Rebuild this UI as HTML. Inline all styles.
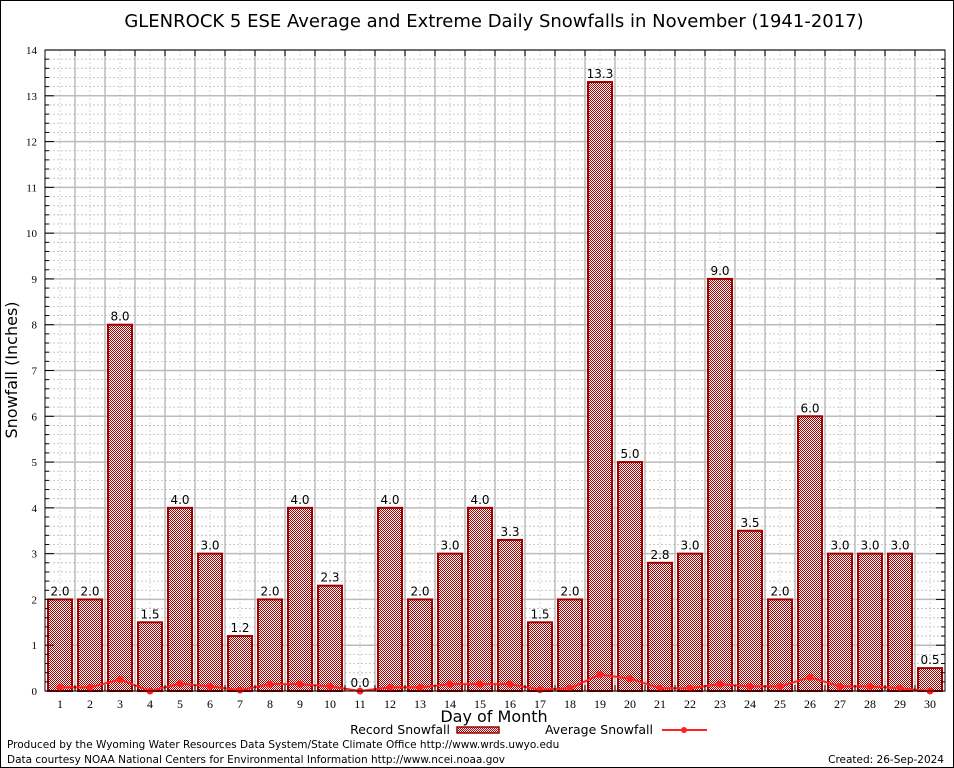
<!DOCTYPE html>
<html><head><meta charset="utf-8"><style>
body{margin:0;background:#fff}
svg{display:block;font-family:"DejaVu Sans","Liberation Sans",sans-serif}
</style></head><body>
<svg id="c" width="954" height="768" viewBox="0 0 954 768">
<defs>
<pattern id="chk" width="2" height="2" patternUnits="userSpaceOnUse"><rect width="2" height="2" fill="#fff"/><rect width="1" height="1" fill="#a00000"/><rect x="1" y="1" width="1" height="1" fill="#a00000"/></pattern>
</defs>
<rect x="0.5" y="0.5" width="953" height="767" fill="#fff" stroke="#000"/>
<text x="494" y="27" font-size="18" text-anchor="middle">GLENROCK 5 ESE Average and Extreme Daily Snowfalls in November (1941-2017)</text>
<g id="grid"></g>
<g id="bars"></g>
<g id="avg"></g>
<g id="axes"></g>
<text transform="translate(17,370) rotate(-90)" font-size="16" text-anchor="middle">Snowfall (Inches)</text>
<text x="494" y="722" font-size="16" text-anchor="middle">Day of Month</text>
<g>
<text x="450" y="734" font-size="12.5" text-anchor="end">Record Snowfall</text>
<rect x="457" y="727" width="42" height="6" fill="url(#chk)" stroke="#a00000" stroke-width="1.5"/>
</g>
<g>
<text x="653" y="734" font-size="12.5" text-anchor="end">Average Snowfall</text>
<line x1="662" y1="730" x2="707" y2="730" stroke="#ff2020" stroke-width="2"/>
<circle cx="684" cy="730" r="3" fill="#ff2020"/>
</g>
<text x="7" y="748" font-size="10.5">Produced by the Wyoming Water Resources Data System/State Climate Office http://www.wrds.uwyo.edu</text>
<text x="7" y="763" font-size="10.5">Data courtesy NOAA National Centers for Environmental Information http://www.ncei.noaa.gov</text>
<text x="944" y="763" font-size="10.5" text-anchor="end">Created: 26-Sep-2024</text>
</svg>
<script>
const days=[1,2,3,4,5,6,7,8,9,10,11,12,13,14,15,16,17,18,19,20,21,22,23,24,25,26,27,28,29,30];
const records=[2.0,2.0,8.0,1.5,4.0,3.0,1.2,2.0,4.0,2.3,0.0,4.0,2.0,3.0,4.0,3.3,1.5,2.0,13.3,5.0,2.8,3.0,9.0,3.5,2.0,6.0,3.0,3.0,3.0,0.5];
const averages=[0.08,0.08,0.25,0.0,0.16,0.1,0.02,0.15,0.15,0.1,0.0,0.08,0.08,0.15,0.15,0.15,0.03,0.06,0.36,0.27,0.06,0.06,0.15,0.1,0.1,0.3,0.1,0.1,0.06,0.0];
const yTicks=[0,1,2,3,4,5,6,7,8,9,10,11,12,13,14];
const NS="http://www.w3.org/2000/svg";
const L=45,R=945,T=50,B=691,yMax=14;
const xs=d=>L+(d-0.5)*(R-L)/days.length;
const ys=v=>B-v*(B-T)/yMax;
function mk(p,tag,a){const e=document.createElementNS(NS,tag);for(const k in a)e.setAttribute(k,a[k]);p.appendChild(e);return e;}
const grid=document.getElementById('grid'),bars=document.getElementById('bars'),avg=document.getElementById('avg'),axes=document.getElementById('axes');
for(let v=0;v<yMax;v+=0.2){const y=ys(v);mk(grid,'line',{x1:L,x2:R,y1:y,y2:y,stroke:'#bbb','stroke-dasharray':'2,2','stroke-width':0.8});}
for(let i=0;i<days.length*2;i++){const x=L+i*(R-L)/(days.length*2);mk(grid,'line',{x1:x,x2:x,y1:T,y2:B,stroke:'#ccc','stroke-dasharray':'2,2','stroke-width':0.8});}
yTicks.forEach(v=>{const y=ys(v);mk(grid,'line',{x1:L,x2:R,y1:y,y2:y,stroke:'#bbb','stroke-width':1.5});
const t=mk(axes,'text',{x:37,y:y+4,'font-size':11,'text-anchor':'end','font-family':'Liberation Serif,serif'});t.textContent=v;

});
for(let i=1;i<days.length;i++){const x=L+i*(R-L)/days.length;mk(grid,'line',{x1:x,x2:x,y1:T,y2:B,stroke:'#bbb','stroke-width':1.5});mk(axes,'line',{x1:x,x2:x,y1:T,y2:T+6,stroke:'#000'});mk(axes,'line',{x1:x,x2:x,y1:B,y2:B-6,stroke:'#000'});}
for(let v=0;v<=yMax;v+=0.2){const y=ys(v);const w=Math.abs(v-Math.round(v))<0.01?9:4;mk(axes,'line',{x1:L,x2:L+w,y1:y,y2:y,stroke:'#000'});mk(axes,'line',{x1:R,x2:R-w,y1:y,y2:y,stroke:'#000'});}
mk(axes,'rect',{x:L,y:T,width:R-L,height:B-T,fill:'none',stroke:'#000','stroke-width':1});
const bw=24;
days.forEach((d,i)=>{const x=xs(d),v=records[i];
const r=mk(bars,'rect',{x:x-bw/2,y:ys(v),width:bw,height:B-ys(v),fill:'url(#chk)',stroke:'#a00000','stroke-width':2});


const t=mk(bars,'text',{x:x,y:ys(v)-4,'font-size':12,'text-anchor':'middle'});t.textContent=v.toFixed(1);


const dl=mk(axes,'text',{x:x,y:B+17,'font-size':12,'text-anchor':'middle','font-family':'Liberation Serif,serif'});dl.textContent=d;

});
const pl=mk(avg,'polyline',{points:days.map((d,i)=>xs(d)+','+ys(averages[i])).join(' '),fill:'none',stroke:'#ff2020','stroke-width':2});


days.forEach((d,i)=>{const c=mk(avg,'circle',{cx:xs(d),cy:ys(averages[i]),r:3.5,fill:'#ff2020'});

});
</script>
</body></html>
